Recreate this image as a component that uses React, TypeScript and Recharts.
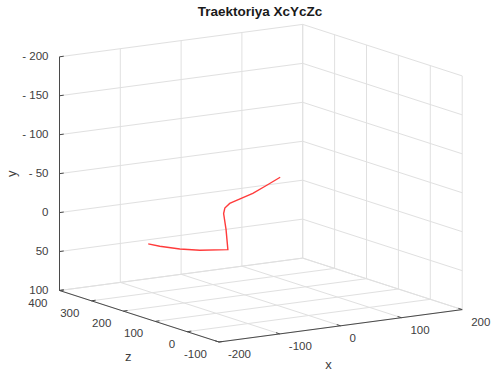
import React from 'react';
import { ScatterChart, Scatter, XAxis, YAxis, ReferenceLine } from 'recharts';

// axis ticks of the 3D box
const xTicks = [-200, -100, 0, 100, 200];
const yTicks = [-200, -150, -100, -50, 0, 50, 100];
const zTicks = [-100, 0, 100, 200, 300, 400];
const yTickLabels = ['- 200', '- 150', '- 100', '- 50', '0', '50', '100'];
const xTickLabels = ['-200', '-100', '0', '100', '200'];
const zTickLabels = ['-100', '0', '100', '200', '300', '400'];

// trajectory (Xc, Yc, Zc)
const trajX = [-159, -140, -107, -74, -28, -31, -35, -33, -25, -8, 13, 36, 58];
const trajY = [18, 23, 30, 35, 39, 13, -8, -15, -20, -24, -29, -37, -45];
const trajZ = [200, 200, 200, 200, 200, 200, 200, 200, 200, 200, 200, 200, 200];

const W = 492;
const H = 376;
const FONT = '"Liberation Sans", Arial, Helvetica, sans-serif';

// fixed camera: orthographic projection of the box onto the page
const proj = (x: number, y: number, z: number) => ({
  sx: 219 + 0.608 * (x + 200) - 0.319 * (z + 100),
  sy: 342 - 0.081 * (x + 200) - 0.103 * (z + 100) - 0.779 * (100 - y),
});

type Seg = { a: { sx: number; sy: number }; b: { sx: number; sy: number } };

const grid: Seg[] = [];
const seg = (a: number[], b: number[]) => ({ a: proj(a[0], a[1], a[2]), b: proj(b[0], b[1], b[2]) });
// back wall z = 400
xTicks.forEach((x) => grid.push(seg([x, -200, 400], [x, 100, 400])));
yTicks.forEach((y) => grid.push(seg([-200, y, 400], [200, y, 400])));
// side wall x = 200
zTicks.forEach((z) => grid.push(seg([200, -200, z], [200, 100, z])));
yTicks.forEach((y) => grid.push(seg([200, y, 400], [200, y, -100])));
// floor y = 100
xTicks.forEach((x) => grid.push(seg([x, 100, -100], [x, 100, 400])));
zTicks.forEach((z) => grid.push(seg([-200, 100, z], [200, 100, z])));

const axes: Seg[] = [
  seg([-200, -200, 400], [-200, 100, 400]),
  seg([-200, 100, 400], [-200, 100, -100]),
  seg([-200, 100, -100], [200, 100, -100]),
];
yTicks.forEach((y) => axes.push(seg([-200, y, 400], [-193, y, 400])));
zTicks.forEach((z) => axes.push(seg([-200, 100, z], [-193, 100, z])));
xTicks.forEach((x) => axes.push(seg([x, 100, -100], [x, 100, -88])));

const trajectory = trajX.map((x, i) => proj(x, trajY[i], trajZ[i]));

type Lbl = { sx: number; sy: number; text: string; anchor: string; dx: number; dy: number; size?: number; rot?: boolean };
const labels: Lbl[] = [
  ...yTicks.map((y, i) => ({ ...proj(-200, y, 400), text: yTickLabels[i], anchor: 'end', dx: -11, dy: 3.5 })),
  ...zTicks.map((z, i) => ({ ...proj(-200, 100, z), text: zTickLabels[i], anchor: 'end', dx: -12, dy: 16 })),
  ...xTicks.map((x, i) => ({ ...proj(x, 100, -100), text: xTickLabels[i], anchor: 'start', dx: 9, dy: 16 })),
  { ...proj(-200, 100, 150), text: 'z', anchor: 'middle', dx: -11, dy: 45, size: 13 },
  { ...proj(0, 100, -100), text: 'x', anchor: 'middle', dx: -12, dy: 43, size: 13 },
  { ...proj(-200, -50, 400), text: 'y', anchor: 'middle', dx: -48, dy: 0, size: 13, rot: true },
];

const LabelShape = (props: any) => {
  const { cx, cy, payload } = props;
  const x = cx + payload.dx;
  const y = cy + payload.dy;
  return (
    <text
      x={x}
      y={y}
      textAnchor={payload.anchor}
      fontSize={payload.size || 11.5}
      fontFamily={FONT}
      fill="#404040"
      transform={payload.rot ? `rotate(-90 ${x} ${y})` : undefined}
      dominantBaseline={payload.rot ? 'central' : undefined}
    >
      {payload.text}
    </text>
  );
};

const App = () => (
  <div style={{ position: 'relative', width: W, height: H, background: '#fff' }}>
    <style>{'body{margin:0}'}</style>
    <div
      style={{
        position: 'absolute',
        left: 260,
        top: 4,
        transform: 'translateX(-50%)',
        fontFamily: FONT,
        fontWeight: 'bold',
        fontSize: 13.5,
        color: '#1a1a1a',
        whiteSpace: 'nowrap',
      }}
    >
      Traektoriya XcYcZc
    </div>
    <ScatterChart width={W} height={H} margin={{ top: 0, right: 0, bottom: 0, left: 0 }}>
      <XAxis type="number" dataKey="sx" domain={[0, W]} allowDataOverflow hide />
      <YAxis type="number" dataKey="sy" domain={[0, H]} allowDataOverflow reversed hide />
      {grid.map((s, i) => (
        <ReferenceLine
          key={'g' + i}
          segment={[{ x: s.a.sx, y: s.a.sy }, { x: s.b.sx, y: s.b.sy }]}
          stroke="#e0e0e0"
          strokeWidth={1}
          ifOverflow="visible"
        />
      ))}
      {axes.map((s, i) => (
        <ReferenceLine
          key={'a' + i}
          segment={[{ x: s.a.sx, y: s.a.sy }, { x: s.b.sx, y: s.b.sy }]}
          stroke="#4a4a4a"
          strokeWidth={1}
          ifOverflow="visible"
        />
      ))}
      <Scatter
        data={trajectory}
        line={{ stroke: '#ff3b3b', strokeWidth: 1.4 }}
        lineJointType="linear"
        shape={() => <g />}
        isAnimationActive={false}
      />
      <Scatter data={labels} shape={LabelShape} isAnimationActive={false} />
    </ScatterChart>
  </div>
);

export default App;
